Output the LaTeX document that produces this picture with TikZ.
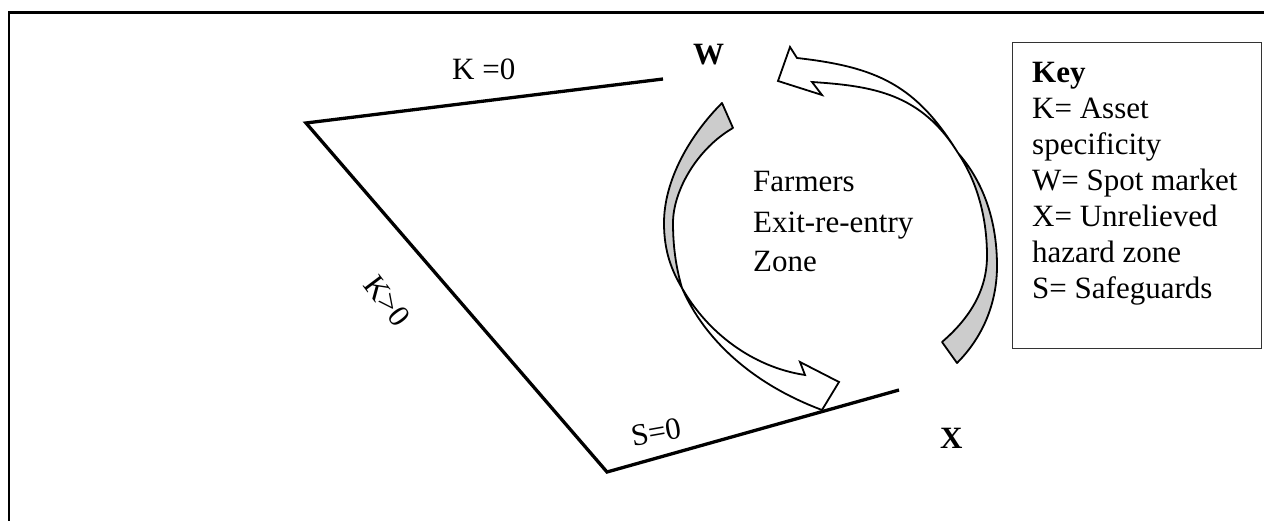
\documentclass[tikz,border=0pt]{standalone}
\usepackage{fontspec}
\setmainfont{Liberation Serif}
\definecolor{bandgray}{gray}{0.8}
\begin{document}
\begin{tikzpicture}[x=1pt,y=-1pt,
  lbl/.style={inner sep=0pt, font=\fontsize{31}{36}\selectfont},
  blbl/.style={inner sep=0pt, font=\fontsize{31}{36}\selectfont\bfseries},
  bandback/.style={draw=black, fill=bandgray, line width=1.8pt, line join=round},
  bandfront/.style={draw=black, fill=white, line width=1.8pt, line join=miter},
  edgeline/.style={line width=3.3pt, line join=miter},
  framel/.style={line width=2.4pt}]
\useasboundingbox (0,0) rectangle (1264,521);
% outer frame (top and left sides only visible)
\coordinate (fbl) at (9,530);
\coordinate (ftl) at (9,12.5);
\coordinate (ftr) at (1270,12.5);
\draw[framel] (fbl) -- (ftl) -- (ftr);
% polygon
\coordinate (pW) at (663,79);
\coordinate (pTL) at (306,123);
\coordinate (pB) at (607,472);
\coordinate (pX) at (899,390);
\draw[edgeline] (pW) -- (pTL) -- (pB) -- (pX);
% labels
\node[lbl, anchor=base west] (k0) at (452,80) {K =0};
\node[lbl, rotate=-53] (kg0) at (387,301) {K>0};
\node[lbl, anchor=base west, rotate=10] (s0) at (633,447) {S=0};
\node[blbl, anchor=base west] (W) at (693,65) {W};
\node[blbl, anchor=base west] (X) at (940,448) {X};
% centre text
\node[lbl, anchor=base west] (c1) at (753,192) {Farmers};
\node[lbl, anchor=base west] (c2) at (753,233) {Exit-re-entry};
\node[lbl, anchor=base west] (c3) at (753,272) {Zone};
% left twisted arrow: shaded back, then white front with head
\coordinate (lcross) at (682,288);
\filldraw[bandback] (722,103) .. controls (690,135) and (664,180) .. (664,223)
  .. controls (664,252) and (672,271) .. (lcross)
  .. controls (677,271) and (673,250) .. (673,223)
  .. controls (673,190) and (698,148) .. (733,128) -- cycle;
\filldraw[bandfront] (lcross) .. controls (700,330) and (742,380) .. (822,410)
  -- (839,382) -- (800,362) -- (805,375)
  .. controls (752,367) and (707,332) .. (lcross) -- cycle;
% right twisted arrow
\coordinate (rcross) at (958,153);
\filldraw[bandback] (957,363) .. controls (985,335) and (997,300) .. (997,266)
  .. controls (997,215) and (980,178) .. (rcross)
  .. controls (976,180) and (987,215) .. (987,256)
  .. controls (987,290) and (970,318) .. (942,342) -- cycle;
\filldraw[bandfront] (rcross) .. controls (916,85) and (877,67) .. (797,58)
  -- (790,47) -- (778,81) -- (822,95) -- (812,82)
  .. controls (872,86) and (921,93) .. (rcross) -- cycle;
% key box
\node[draw=black!80, line width=1.2pt, minimum width=249pt, minimum height=306pt, anchor=north west, inner sep=0pt] (keybox) at (1012,42) {};
\node[blbl, anchor=base west] (key1) at (1032,83) {Key};
\node[lbl, anchor=base west] (key2) at (1032,119) {K= Asset};
\node[lbl, anchor=base west] (key3) at (1032,155) {specificity};
\node[lbl, anchor=base west] (key4) at (1032,191) {W= Spot market};
\node[lbl, anchor=base west] (key5) at (1032,227) {X= Unrelieved};
\node[lbl, anchor=base west] (key6) at (1032,263) {hazard zone};
\node[lbl, anchor=base west] (key7) at (1032,299) {S= Safeguards};
\end{tikzpicture}
\end{document}
